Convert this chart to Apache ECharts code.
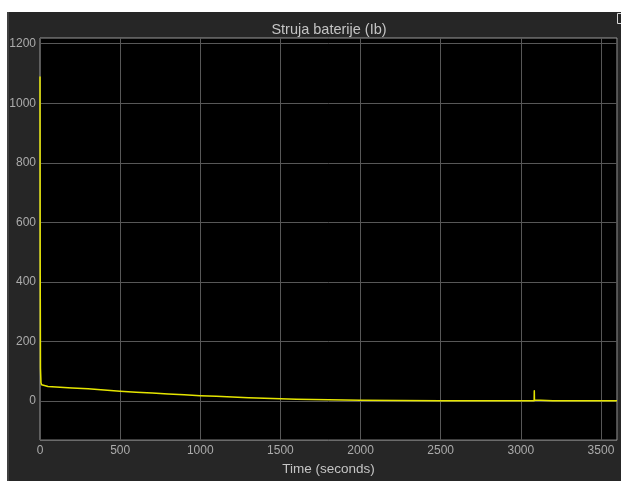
<!DOCTYPE html>
<html>
<head>
<meta charset="utf-8">
<script src="https://cdn.jsdelivr.net/npm/echarts@6/dist/echarts.min.js"></script>
<style>
html,body{margin:0;padding:0;background:#fff;}
#c{width:621px;height:481px;}
</style>
</head>
<body>
<div id="c"></div>
<script>
var titleText = 'Struja baterije (Ib)';
var xName = 'Time (seconds)';
var timeS = [0, 1, 3, 6, 10, 20, 50, 100, 200, 300, 400, 500, 600, 700, 800, 900, 1000, 1100, 1200, 1300, 1400, 1500, 1600, 1700, 1800, 1900, 2000, 2250, 2500, 2800, 3000, 3083, 3084, 3085, 3087, 3200, 3400, 3600];
var currentIb = [1090, 500, 110, 62, 55, 52, 49, 47, 44, 41, 37, 33, 30, 27, 24, 21, 18, 16, 13.5, 11.5, 9.5, 8, 6.5, 5.5, 4.5, 3.5, 3, 2, 1.5, 1, 0.8, 0.8, 35, 4, 2, 1.5, 1, 0.8];
var yTicks = [0, 200, 400, 600, 800, 1000, 1200];

var chart = echarts.init(document.getElementById('c'), null, {renderer: 'canvas'});
var font = "'Liberation Sans Narrow', 'Liberation Sans', Arial, sans-serif";
var plain = function (v) { return String(v); };
chart.setOption({
  animation: false,
  color: ['#e6e600'],
  backgroundColor: 'transparent',
  graphic: [
    {type: 'rect', shape: {x: 7, y: 12, width: 614, height: 469}, style: {fill: '#262626'}, z: -10, silent: true},
    {type: 'line', shape: {x1: 8, y1: 12, x2: 8, y2: 481}, style: {stroke: '#5a5a5a', lineWidth: 1}, z: -9, silent: true},
    {type: 'rect', shape: {x: 617.5, y: 13.5, width: 8, height: 10}, style: {fill: 'none', stroke: '#d8d8d8', lineWidth: 1}, z: 10, silent: true}
  ],
  title: {
    text: titleText,
    left: 324, top: 17, textAlign: 'center',
    textStyle: {color: '#c4c4c4', fontSize: 14.5, fontWeight: 'normal', fontFamily: font}
  },
  grid: {
    left: 40, top: 38, right: 4, bottom: 40,
    show: true, backgroundColor: '#000000', borderColor: '#9a9a9a', borderWidth: 1,
    containLabel: false
  },
  xAxis: {
    type: 'value', min: 0, max: 3600, interval: 500,
    name: xName, nameLocation: 'middle', nameGap: 21,
    nameTextStyle: {color: '#c4c4c4', fontSize: 13.5, fontFamily: font},
    axisLine: {show: false},
    axisTick: {show: false},
    axisLabel: {color: '#ababab', fontSize: 12, fontFamily: font, margin: 5, showMaxLabel: false, formatter: plain},
    splitLine: {show: true, lineStyle: {color: '#575757', width: 1}}
  },
  yAxis: {
    type: 'value', min: -131, max: 1219,
    axisLine: {show: false},
    axisTick: {show: false, customValues: yTicks},
    axisLabel: {color: '#ababab', fontSize: 12, fontFamily: font, margin: 4, customValues: yTicks, formatter: plain},
    splitLine: {show: false}
  },
  series: [{
    type: 'line',
    data: timeS.map(function (t, i) { return [t, currentIb[i]]; }),
    showSymbol: false,
    symbol: 'none',
    itemStyle: {color: '#e6e600'},
    lineStyle: {color: '#e6e600', width: 1.5, cap: 'butt', join: 'round'},
    emphasis: {disabled: true},
    z: 5,
    markLine: {
      silent: true, symbol: 'none', label: {show: false},
      lineStyle: {color: '#575757', width: 1, type: 'solid'},
      emphasis: {disabled: true},
      animation: false,
      z: 1,
      data: yTicks.map(function (v) { return {yAxis: v}; })
    }
  }]
});
</script>
</body>
</html>
